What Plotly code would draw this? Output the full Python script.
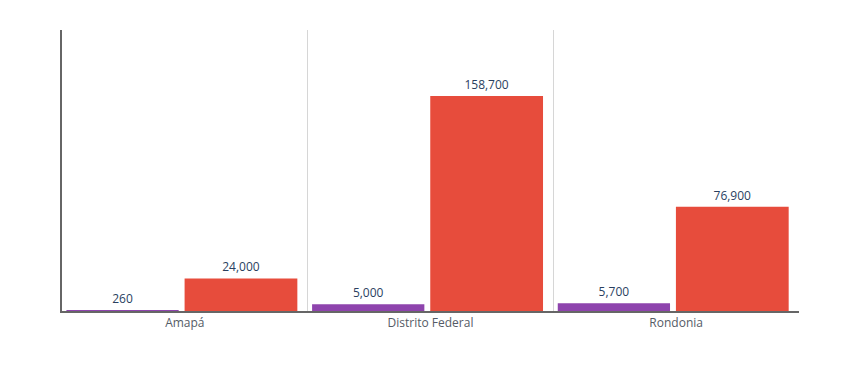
import plotly.graph_objects as go

categories = ["Amapá", "Distrito Federal", "Rondonia"]
series_a = [260, 5000, 5700]
series_b = [24000, 158700, 76900]
labels_a = ["260", "5,000", "5,700"]
labels_b = ["24,000", "158,700", "76,900"]

fig = go.Figure()
fig.add_trace(go.Bar(x=categories, y=series_a, text=labels_a, textposition="outside",
                     width=0.457, offset=-0.482,
                     marker=dict(color="#8e44ad", line=dict(width=0)),
                     textfont=dict(size=12, color="#2a3f5f"), cliponaxis=False))
fig.add_trace(go.Bar(x=categories, y=series_b, text=labels_b, textposition="outside",
                     width=0.459, offset=-0.001,
                     marker=dict(color="#e74c3c", line=dict(width=0)),
                     textfont=dict(size=12, color="#2a3f5f"), cliponaxis=False))

fig.update_layout(
    width=861, height=372,
    margin=dict(l=54, r=70, t=22, b=69),
    paper_bgcolor="white", plot_bgcolor="white",
    showlegend=False,
    barmode="group",
    font=dict(family="Open Sans", size=12, color="#2a3f5f"),
    xaxis=dict(tickson="boundaries", showgrid=True, gridcolor="#d6d6d6", gridwidth=1,
               showline=True, linecolor="#666666", linewidth=2, ticks="",
               range=[-0.5, 2.5], tickfont=dict(size=12, color="#555b66"), zeroline=False),
    yaxis=dict(range=[0, 207400], showgrid=False, showticklabels=False, zeroline=False,
               showline=True, linecolor="#666666", linewidth=2, ticks=""),
)
fig.write_html("out.html")
